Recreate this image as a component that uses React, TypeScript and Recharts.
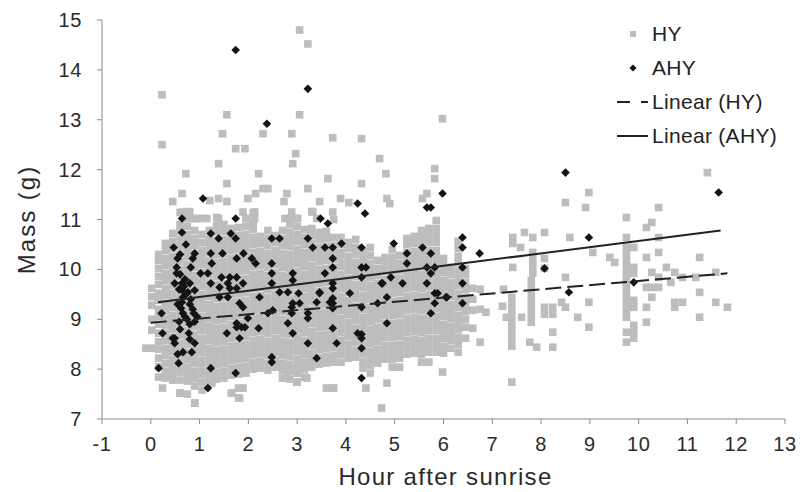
import React from 'react';
import { ScatterChart, Scatter, XAxis, YAxis, Label } from 'recharts';

type Col = [number, number[]];

const hourTicks = [-1, 0, 1, 2, 3, 4, 5, 6, 7, 8, 9, 10, 11, 12, 13];
const massTicks = [7, 8, 9, 10, 11, 12, 13, 14, 15];

// HY (hatch-year) birds, dense part read column by column
const hyColumnsEarly: Col[] = [
  [0.02, [8.42, 8.78, 9.0, 9.28, 9.45, 9.62]],
  [0.16, [7.84, 8.05, 8.22, 8.4, 8.55, 8.72, 8.9, 9.05, 9.2, 9.38, 9.52, 9.7, 9.86, 10.02, 10.18, 10.3]],
  [0.3, [7.82, 7.96, 8.12, 8.28, 8.42, 8.58, 8.72, 8.88, 9.02, 9.18, 9.32, 9.48, 9.62, 9.78, 9.92, 10.08, 10.22, 10.38, 10.52]],
  [0.45, [7.78, 7.92, 8.06, 8.2, 8.36, 8.5, 8.64, 8.8, 8.94, 9.08, 9.24, 9.38, 9.52, 9.68, 9.82, 9.96, 10.12, 10.26, 10.42, 10.56, 10.72]],
  [0.6, [7.52, 7.78, 7.94, 8.08, 8.24, 8.38, 8.52, 8.68, 8.82, 8.98, 9.12, 9.26, 9.42, 9.56, 9.7, 9.86, 10.0, 10.16, 10.3, 10.46, 10.6, 10.76, 10.9, 11.14]],
  [0.75, [7.5, 7.76, 7.9, 8.04, 8.2, 8.34, 8.5, 8.64, 8.78, 8.94, 9.08, 9.22, 9.38, 9.52, 9.66, 9.82, 9.96, 10.1, 10.26, 10.4, 10.56, 10.7, 10.86, 11.02, 11.16]],
  [0.9, [7.32, 7.66, 7.82, 7.96, 8.12, 8.26, 8.4, 8.56, 8.7, 8.86, 9.0, 9.14, 9.3, 9.44, 9.58, 9.74, 9.88, 10.04, 10.18, 10.32, 10.48, 10.62, 10.78, 11.02]],
  [1.05, [7.58, 7.74, 7.9, 8.04, 8.18, 8.34, 8.48, 8.62, 8.78, 8.92, 9.06, 9.22, 9.36, 9.5, 9.66, 9.8, 9.94, 10.1, 10.24, 10.38, 10.54, 10.7, 11.02]],
  [1.2, [7.72, 7.84, 7.98, 8.14, 8.28, 8.42, 8.58, 8.72, 8.86, 9.02, 9.16, 9.3, 9.46, 9.6, 9.74, 9.9, 10.04, 10.18, 10.34, 10.48, 10.62, 10.78]],
  [1.35, [7.8, 7.94, 8.1, 8.24, 8.38, 8.54, 8.68, 8.82, 8.98, 9.12, 9.26, 9.42, 9.56, 9.7, 9.86, 10.0, 10.14, 10.3, 10.44, 10.58, 10.74, 10.88, 11.04]],
  [1.5, [7.82, 7.96, 8.12, 8.26, 8.4, 8.56, 8.7, 8.84, 9.0, 9.14, 9.28, 9.44, 9.58, 9.72, 9.88, 10.02, 10.16, 10.32, 10.46, 10.6, 10.76, 10.9]],
  [1.65, [7.52, 7.88, 8.02, 8.18, 8.32, 8.46, 8.62, 8.76, 8.9, 9.06, 9.2, 9.34, 9.5, 9.64, 9.78, 9.94, 10.08, 10.22, 10.38, 10.52, 10.66, 10.82]],
  [1.8, [7.42, 7.62, 7.9, 8.04, 8.2, 8.34, 8.48, 8.64, 8.78, 8.92, 9.08, 9.22, 9.36, 9.52, 9.66, 9.8, 9.96, 10.1, 10.24, 10.4, 10.54, 10.68, 10.84]],
  [1.95, [7.92, 8.06, 8.22, 8.36, 8.5, 8.66, 8.8, 8.94, 9.1, 9.24, 9.38, 9.54, 9.68, 9.82, 9.98, 10.12, 10.26, 10.42, 10.56, 10.7, 10.86, 11.02]],
];

const hyColumnsMid: Col[] = [
  [2.1, [8.0, 8.14, 8.3, 8.44, 8.58, 8.74, 8.88, 9.02, 9.18, 9.32, 9.46, 9.62, 9.76, 9.9, 10.06, 10.2, 10.34, 10.5, 10.64, 10.8, 10.94, 11.14]],
  [2.25, [8.02, 8.16, 8.32, 8.46, 8.6, 8.76, 8.9, 9.04, 9.2, 9.34, 9.48, 9.64, 9.78, 9.92, 10.08, 10.22, 10.36, 10.52, 10.66]],
  [2.4, [7.98, 8.12, 8.28, 8.42, 8.56, 8.72, 8.86, 9.0, 9.16, 9.3, 9.44, 9.6, 9.74, 9.88, 10.04, 10.18, 10.32, 10.48, 10.62, 10.78]],
  [2.55, [8.04, 8.18, 8.34, 8.48, 8.62, 8.78, 8.92, 9.06, 9.22, 9.36, 9.5, 9.66, 9.8, 9.94, 10.1, 10.24, 10.38, 10.54, 10.68]],
  [2.7, [7.82, 7.98, 8.12, 8.28, 8.42, 8.56, 8.72, 8.86, 9.0, 9.16, 9.3, 9.44, 9.6, 9.74, 9.88, 10.04, 10.18, 10.32, 10.48, 10.62, 10.78]],
  [2.85, [7.8, 7.96, 8.1, 8.26, 8.4, 8.54, 8.7, 8.84, 8.98, 9.14, 9.28, 9.42, 9.58, 9.72, 9.86, 10.02, 10.16, 10.3, 10.46, 10.6, 10.74, 10.9, 11.02]],
  [3.0, [7.74, 7.92, 8.06, 8.2, 8.36, 8.5, 8.64, 8.8, 8.94, 9.08, 9.24, 9.38, 9.52, 9.68, 9.82, 9.96, 10.12, 10.26, 10.4, 10.56, 10.7, 10.86, 11.02]],
  [3.15, [7.84, 8.0, 8.14, 8.3, 8.44, 8.58, 8.74, 8.88, 9.02, 9.18, 9.32, 9.46, 9.62, 9.76, 9.9, 10.06, 10.2, 10.34, 10.5, 10.64, 10.8]],
  [3.3, [8.04, 8.18, 8.32, 8.48, 8.62, 8.76, 8.92, 9.06, 9.2, 9.36, 9.5, 9.64, 9.8, 9.94, 10.08, 10.24, 10.38, 10.52, 10.68, 10.82, 11.16]],
  [3.45, [8.1, 8.24, 8.4, 8.54, 8.68, 8.84, 8.98, 9.12, 9.28, 9.42, 9.56, 9.72, 9.86, 10.0, 10.16, 10.3, 10.44, 10.6, 10.74]],
  [3.6, [7.62, 8.12, 8.26, 8.42, 8.56, 8.7, 8.86, 9.0, 9.14, 9.3, 9.44, 9.58, 9.74, 9.88, 10.02, 10.18, 10.32, 10.46, 10.62, 10.76]],
  [3.75, [7.62, 8.14, 8.28, 8.44, 8.58, 8.72, 8.88, 9.02, 9.16, 9.32, 9.46, 9.6, 9.76, 9.9, 10.04, 10.2, 10.34, 10.48, 10.64, 11.0]],
  [3.9, [8.14, 8.3, 8.44, 8.58, 8.74, 8.88, 9.02, 9.18, 9.32, 9.46, 9.62, 9.76, 9.9, 10.06, 10.2, 10.34, 10.5, 10.64]],
];

const hyColumnsLate: Col[] = [
  [4.05, [8.22, 8.36, 8.5, 8.66, 8.8, 8.94, 9.1, 9.24, 9.38, 9.54, 9.68, 9.82, 9.98, 10.12, 10.26, 10.42, 10.54]],
  [4.2, [8.24, 8.38, 8.54, 8.68, 8.82, 8.98, 9.12, 9.26, 9.42, 9.56, 9.7, 9.86, 10.0, 10.14, 10.3, 10.44, 10.6]],
  [4.35, [8.02, 8.16, 8.32, 8.46, 8.6, 8.76, 8.9, 9.04, 9.2, 9.34, 9.48, 9.64, 9.78, 9.92, 10.08, 10.22, 10.36]],
  [4.5, [7.92, 8.08, 8.22, 8.36, 8.52, 8.66, 8.8, 8.96, 9.1, 9.24, 9.4, 9.54, 9.68, 9.84, 9.98, 10.12, 10.28, 10.44]],
  [4.65, [8.12, 8.26, 8.4, 8.56, 8.7, 8.84, 9.0, 9.14, 9.28, 9.44, 9.58, 9.72, 9.88, 10.02, 10.18]],
  [4.8, [8.2, 8.34, 8.48, 8.64, 8.78, 8.92, 9.08, 9.22, 9.36, 9.52, 9.66, 9.8, 9.96, 10.1, 10.24]],
  [4.95, [8.04, 8.2, 8.34, 8.48, 8.64, 8.78, 8.92, 9.08, 9.22, 9.36, 9.52, 9.66, 9.8, 9.96, 10.1, 10.24, 10.4]],
  [5.1, [8.04, 8.22, 8.36, 8.5, 8.66, 8.8, 8.94, 9.1, 9.24, 9.38, 9.54, 9.68, 9.82, 9.98, 10.12, 10.28]],
  [5.25, [8.3, 8.44, 8.58, 8.74, 8.88, 9.02, 9.18, 9.32, 9.46, 9.62, 9.76, 9.9, 10.06, 10.2, 10.34, 10.5, 10.62]],
  [5.4, [8.32, 8.46, 8.6, 8.76, 8.9, 9.04, 9.2, 9.34, 9.48, 9.64, 9.78, 9.92, 10.08, 10.22, 10.36, 10.52, 10.66]],
  [5.55, [8.14, 8.3, 8.44, 8.58, 8.74, 8.88, 9.02, 9.18, 9.32, 9.46, 9.62, 9.76, 9.9, 10.06, 10.2, 10.34, 10.5, 10.64, 10.78]],
  [5.7, [8.14, 8.34, 8.48, 8.62, 8.78, 8.92, 9.06, 9.22, 9.36, 9.5, 9.66, 9.8, 9.94, 10.1, 10.24, 10.38, 10.54, 10.68, 10.82]],
  [5.85, [8.34, 8.48, 8.62, 8.78, 8.92, 9.06, 9.22, 9.36, 9.5, 9.66, 9.8, 9.94, 10.1, 10.24, 10.38, 10.54, 10.68, 10.82, 10.98]],
  [6.0, [8.32, 8.46, 8.62, 8.76, 8.9, 9.06, 9.2, 9.34, 9.5, 9.64, 9.78, 9.94, 10.08, 10.22]],
  [6.15, [8.42, 8.58, 8.72, 8.86, 9.02, 9.16, 9.3, 9.46, 9.6, 9.74, 9.9, 10.04]],
  [6.3, [8.34, 8.5, 8.64, 8.8, 8.94, 9.08, 9.24, 9.38, 9.52, 9.68, 9.82, 9.96, 10.12, 10.26, 10.42, 10.56]],
  [6.45, [8.62, 8.84, 9.0, 9.16, 9.3, 9.44, 9.6, 9.74, 9.9, 10.02]],
  [6.6, [8.82, 9.18, 9.4, 9.62]],
  [6.75, [8.54, 9.2, 9.6]],
];

const hyFringe: [number, number][] = [
  [0.64, 11.15], [0.8, 11.15], [1.89, 11.15], [2.13, 11.15], [2.89, 11.15], [3.32, 11.15], [3.73, 11.15],
  [0.8, 11.02], [0.96, 11.02], [1.15, 11.02], [1.39, 11.02], [1.97, 11.02], [2.13, 11.02], [2.75, 11.02],
  [3.01, 11.02], [3.4, 11.02],
];

const hyHigh: [number, number][] = [
  [0.23, 13.5], [0.23, 12.5], [0.72, 11.92], [1.47, 12.72], [2.3, 12.72], [2.89, 12.72], [3.73, 12.64],
  [1.74, 12.42], [1.93, 12.42], [2.97, 12.32], [1.39, 12.12], [2.91, 12.12], [2.21, 11.92], [3.63, 11.82],
  [1.56, 11.72], [2.3, 11.62], [2.4, 11.62], [3.22, 11.62], [0.64, 11.52], [2.15, 11.52], [2.79, 11.52],
  [0.45, 11.36], [1.21, 11.38], [1.39, 11.42], [1.56, 11.36], [1.99, 11.42], [2.73, 11.36], [3.46, 11.36],
  [3.05, 14.8], [3.22, 14.52], [1.56, 13.1], [3.05, 13.1], [5.98, 13.02], [4.32, 12.62], [4.69, 12.22],
  [5.82, 12.02], [5.82, 11.82], [4.32, 11.72], [4.82, 11.92], [4.84, 11.42], [4.9, 11.32], [3.89, 11.42],
  [4.06, 11.34], [5.57, 11.42], [5.66, 11.52],
];

const hyLow: [number, number][] = [
  [-0.1, 8.42], [0.24, 7.62], [0.6, 7.52], [0.9, 7.32], [1.25, 7.72], [1.66, 7.52], [1.82, 7.42], [1.89, 7.62],
  [2.77, 7.82], [2.99, 7.74], [3.2, 7.82], [3.73, 7.62], [4.41, 7.62], [4.73, 7.22], [4.84, 7.72],
  [5.98, 7.94], [7.4, 7.74],
];

const hyLateDay: [number, number][] = [
  [6.87, 9.14], [7.21, 9.26], [7.23, 9.6], [7.29, 9.04], [7.4, 9.44], [7.4, 9.3], [7.4, 9.16], [7.4, 9.02],
  [7.4, 8.88], [7.4, 8.74], [7.4, 8.6], [7.4, 8.46], [7.42, 10.04], [7.42, 10.52], [7.42, 10.64], [7.58, 10.44],
  [7.6, 9.04], [7.66, 10.74], [7.8, 9.78], [7.8, 9.64], [7.8, 9.5], [7.8, 9.36], [7.8, 9.22], [7.8, 9.08],
  [7.8, 8.94], [7.77, 8.54], [7.91, 8.44], [7.83, 10.64], [7.83, 10.34], [7.83, 10.2], [7.83, 10.06],
  [7.83, 9.92], [8.07, 10.74], [8.07, 10.22], [8.07, 10.02], [8.07, 9.24], [8.07, 9.1], [8.24, 9.24],
  [8.24, 9.1], [8.24, 8.74], [8.24, 8.44], [8.42, 9.34], [8.5, 9.24], [8.5, 9.84], [8.5, 11.34], [8.59, 10.64],
  [8.75, 9.04], [8.91, 11.24], [8.98, 11.54], [8.98, 9.34], [8.98, 8.84], [9.06, 10.34], [9.41, 10.24],
  [9.51, 10.14], [9.75, 11.04], [9.75, 10.64], [9.75, 10.44], [9.75, 10.3], [9.75, 10.16], [9.75, 10.02],
  [9.75, 9.88], [9.75, 9.74], [9.75, 9.6], [9.75, 9.46], [9.75, 9.32], [9.75, 9.18], [9.75, 9.04],
  [9.75, 8.74], [9.75, 8.54], [9.9, 10.44], [9.9, 10.04], [9.9, 9.92], [9.9, 9.38], [9.9, 9.24], [9.9, 8.88],
  [9.9, 8.74], [9.9, 8.62], [10.16, 10.84], [10.16, 10.24], [10.16, 9.64], [10.16, 9.24], [10.16, 8.94],
  [10.27, 10.94], [10.27, 9.94], [10.27, 9.64], [10.27, 9.44], [10.41, 11.24], [10.41, 10.64], [10.41, 10.34],
  [10.41, 9.84], [10.41, 9.64], [10.57, 10.04], [10.66, 9.74], [10.74, 9.94], [10.74, 9.34], [10.74, 9.24],
  [10.9, 9.84], [10.9, 9.34], [11.17, 9.84], [11.25, 10.24], [11.25, 9.54], [11.25, 9.04], [11.41, 11.94],
  [11.58, 9.94], [11.58, 9.34], [11.82, 9.24],
];

// AHY (after-hatch-year) birds
const ahyEarly: [number, number][] = [
  [1.74, 14.4], [3.22, 13.62], [2.38, 12.92], [1.07, 11.42], [0.64, 11.02], [1.74, 11.02], [3.48, 11.02],
  [3.63, 10.92], [0.64, 10.74], [1.23, 10.72], [1.64, 10.72], [1.74, 10.62], [1.39, 10.62], [2.48, 10.62],
  [2.64, 10.62], [3.22, 10.62], [0.47, 10.44], [3.32, 10.44], [3.57, 10.44], [3.73, 10.44], [1.23, 10.32],
  [1.47, 10.32], [0.9, 10.32], [1.9, 10.32], [0.55, 10.22], [0.86, 10.22], [1.76, 10.22], [2.07, 10.22],
  [2.15, 10.12], [3.73, 10.22], [0.82, 10.04], [1.25, 10.12], [2.48, 10.12], [0.53, 10.04], [0.53, 9.92],
  [1.02, 9.92], [1.17, 9.92], [1.45, 9.84], [1.62, 9.84], [1.76, 9.84], [2.48, 9.92], [2.91, 9.92],
  [3.57, 9.92], [3.73, 10.04], [0.49, 9.72], [0.64, 9.72], [0.8, 9.72], [1.23, 9.72], [1.58, 9.72],
  [1.89, 9.72], [2.48, 9.72], [2.91, 9.78], [0.64, 9.58], [0.76, 9.54], [1.41, 9.64], [1.62, 9.62],
  [1.76, 9.62], [1.58, 9.44], [1.41, 9.44], [0.66, 9.44], [0.64, 9.34], [0.8, 9.3], [0.86, 9.2],
  [2.23, 9.44], [2.64, 9.54], [2.81, 9.54], [3.03, 9.52], [3.46, 9.54], [3.4, 9.34], [3.67, 9.34],
  [1.82, 9.32], [1.89, 9.24], [0.22, 9.12], [0.66, 9.12], [0.88, 9.12], [2.4, 9.12], [2.5, 9.18],
  [2.89, 9.24], [2.89, 9.12], [3.05, 9.32],
];

const ahyDense: [number, number][] = [
  [0.24, 8.72], [0.49, 8.62], [0.49, 8.52], [0.9, 8.52], [0.66, 8.34], [0.84, 8.34], [0.57, 8.12],
  [0.16, 8.02], [1.23, 8.02], [1.74, 7.92], [1.17, 7.62], [1.56, 8.72], [1.82, 8.62], [1.76, 8.84],
  [1.86, 8.84], [1.93, 8.84], [1.76, 8.92], [1.99, 9.02], [2.21, 8.82], [2.81, 8.92], [2.91, 8.72],
  [2.48, 8.24], [2.48, 8.14], [2.91, 9.32], [3.22, 9.12], [3.22, 9.02], [3.22, 8.52], [3.4, 8.22],
  [3.73, 8.82], [3.73, 9.32], [0.6, 9.9], [0.7, 9.8], [0.58, 9.6], [0.72, 9.5], [0.62, 9.22], [0.74, 9.0],
  [0.58, 8.95], [0.8, 8.9], [0.7, 9.05], [0.82, 9.4], [0.68, 9.66], [0.6, 8.8], [0.78, 8.72], [0.9, 8.95],
  [0.55, 9.3], [0.95, 9.05], [0.9, 9.58], [0.72, 10.5], [0.6, 10.3], [0.8, 8.6], [0.55, 8.3], [0.45, 8.62],
];

const ahyLate: [number, number][] = [
  [3.73, 9.42], [3.73, 9.22], [3.81, 8.52], [4.08, 9.52], [4.32, 9.24], [4.24, 8.72], [4.32, 8.7],
  [4.32, 8.62], [4.32, 8.42], [4.32, 7.82], [4.73, 9.72], [4.65, 9.32], [4.84, 9.44], [4.84, 8.92],
  [5.16, 9.72], [5.66, 9.72], [5.82, 9.52], [5.88, 9.52], [5.82, 9.32], [5.74, 9.12], [6.07, 9.44],
  [6.39, 9.72], [6.39, 9.32], [5.98, 11.52], [4.24, 11.32], [5.66, 11.24], [5.74, 11.24], [4.39, 11.12],
  [3.91, 10.52], [4.32, 10.44], [4.98, 10.52], [5.25, 10.32], [5.25, 10.12], [5.57, 10.44], [5.74, 10.32],
  [6.39, 10.64], [6.39, 10.44], [6.74, 10.32], [4.32, 10.04], [4.41, 10.04], [5.66, 10.04], [5.82, 10.04],
  [5.74, 9.92], [6.39, 10.04], [4.32, 9.84], [4.75, 9.72], [4.92, 9.84], [3.73, 9.62], [3.46, 9.52],
  [6.05, 9.44], [3.73, 9.72], [8.5, 11.94], [11.64, 11.54], [8.98, 10.64], [8.07, 10.02], [8.57, 9.54],
  [9.9, 9.74],
];

// Excel-style linear trend lines, end points
const hyTrend = [{ x: 0, y: 8.93 }, { x: 11.82, y: 9.92 }];
const ahyTrend = [{ x: 0.15, y: 9.34 }, { x: 11.68, y: 10.78 }];

const fromCols = (cols: Col[]) => cols.flatMap(([x, ms]) => ms.map((m) => ({ x, y: m })));
const fromPairs = (ps: [number, number][]) => ps.map(([x, y]) => ({ x, y }));

const hyData = [
  ...fromCols(hyColumnsEarly),
  ...fromCols(hyColumnsMid),
  ...fromCols(hyColumnsLate),
  ...fromPairs(hyFringe),
  ...fromPairs(hyHigh),
  ...fromPairs(hyLow),
  ...fromPairs(hyLateDay),
];
const ahyData = [...fromPairs(ahyEarly), ...fromPairs(ahyDense), ...fromPairs(ahyLate)];

const FONT = '"Liberation Sans", Arial, Helvetica, sans-serif';
const GREY = '#bdbdbd';
const BLACK = '#141414';
const TEXT = '#2a2a2a';

const Square = (props: any) => {
  const { cx, cy } = props;
  if (cx == null || cy == null) return <g />;
  return <rect x={cx - 3.8} y={cy - 3.8} width={7.6} height={7.6} fill={GREY} />;
};

const Diamond = (props: any) => {
  const { cx, cy } = props;
  if (cx == null || cy == null) return <g />;
  const r = 4.3;
  return <path d={`M${cx},${cy - r}L${cx + r},${cy}L${cx},${cy + r}L${cx - r},${cy}Z`} fill={BLACK} />;
};

const NoMark = () => <g />;

const XTitle = (props: any) => {
  const vb = props.viewBox || {};
  const cx = vb.x + vb.width / 2 + 2;
  const by = vb.y + vb.height - 7;
  return (
    <text x={cx} y={by} textAnchor="middle" fill={TEXT} style={{ fontFamily: FONT, fontSize: 24, letterSpacing: 1.3 }}>
      Hour after sunrise
    </text>
  );
};

const YTitle = (props: any) => {
  const vb = props.viewBox || {};
  const cx = vb.x + 26;
  const cy = vb.y + vb.height / 2;
  return (
    <text
      x={cx}
      y={cy}
      transform={`rotate(-90 ${cx} ${cy})`}
      textAnchor="middle"
      dominantBaseline="central"
      fill={TEXT}
      style={{ fontFamily: FONT, fontSize: 24, letterSpacing: 2 }}
    >
      Mass (g)
    </text>
  );
};

const legendItems = [
  { key: 'sq', label: 'HY' },
  { key: 'di', label: 'AHY' },
  { key: 'dash', label: 'Linear (HY)' },
  { key: 'solid', label: 'Linear (AHY)' },
];

const LegendIcon = ({ kind }: { kind: string }) => (
  <svg width={35} height={34} style={{ display: 'block', flex: 'none' }}>
    {kind === 'sq' && <rect x={13} y={14} width={6} height={6} fill={GREY} />}
    {kind === 'di' && <path d="M16,13.5L19.5,17L16,20.5L12.5,17Z" fill={BLACK} />}
    {kind === 'dash' && (
      <g stroke="#222" strokeWidth={2}>
        <line x1={0} y1={17} x2={13} y2={17} />
        <line x1={24} y1={17} x2={31} y2={17} />
      </g>
    )}
    {kind === 'solid' && <line x1={0} y1={17} x2={31} y2={17} stroke="#222" strokeWidth={2} />}
  </svg>
);

const ChartLegend = () => (
  <div
    style={{
      position: 'absolute',
      left: 617,
      top: 17,
      fontFamily: FONT,
      fontSize: 21,
      color: '#222',
      letterSpacing: 0.3,
    }}
  >
    {legendItems.map((it) => (
      <div key={it.key} style={{ display: 'flex', alignItems: 'center', height: 34 }}>
        <LegendIcon kind={it.key} />
        <span style={{ lineHeight: '34px', whiteSpace: 'nowrap' }}>{it.label}</span>
      </div>
    ))}
  </div>
);

export default function App() {
  const tickStyle = { fontSize: 20, fill: TEXT, fontFamily: FONT, letterSpacing: 0.6 };
  return (
    <div style={{ width: 800, height: 492, position: 'relative', background: '#fff' }}>
      <style>{'body{margin:0;}'}</style>
      <ScatterChart width={800} height={492} margin={{ top: 20, right: 15, bottom: 0, left: 0 }}>
        <XAxis
          type="number"
          dataKey="x"
          domain={[-1, 13]}
          ticks={hourTicks}
          interval={0}
          allowDataOverflow
          height={73}
          tickSize={5}
          tickMargin={13}
          tick={tickStyle}
          axisLine={{ stroke: '#8a8a8a' }}
          tickLine={{ stroke: '#8a8a8a' }}
        >
          <Label content={XTitle} />
        </XAxis>
        <YAxis
          type="number"
          dataKey="y"
          domain={[7, 15]}
          ticks={massTicks}
          interval={0}
          allowDataOverflow
          width={102}
          tickSize={5}
          tickMargin={15}
          tick={tickStyle}
          axisLine={{ stroke: '#8a8a8a' }}
          tickLine={{ stroke: '#8a8a8a' }}
        >
          <Label content={YTitle} />
        </YAxis>
        <Scatter name="HY" data={hyData} shape={Square} isAnimationActive={false} />
        <Scatter name="AHY" data={ahyData} shape={Diamond} isAnimationActive={false} />
        <Scatter
          name="Linear (HY)"
          data={hyTrend}
          shape={NoMark}
          line={{ stroke: '#222', strokeWidth: 2, strokeDasharray: '16 6' }}
          isAnimationActive={false}
        />
        <Scatter
          name="Linear (AHY)"
          data={ahyTrend}
          shape={NoMark}
          line={{ stroke: '#222', strokeWidth: 2 }}
          isAnimationActive={false}
        />
      </ScatterChart>
      <ChartLegend />
    </div>
  );
}
